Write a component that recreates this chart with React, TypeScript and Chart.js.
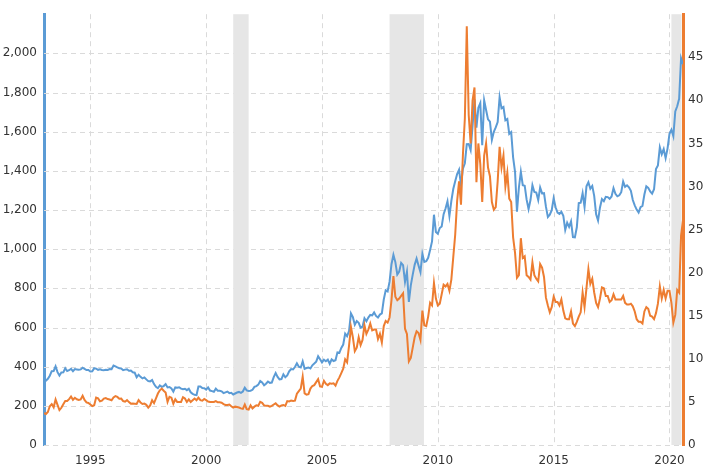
import React, { useEffect, useRef } from "react";
import { Chart, registerables } from "chart.js";

Chart.register(...registerables);

const START_YEAR = 1993;

// Monthly gold price (USD/oz), Jan 1993 .. Aug 2020
const goldPrices = [
  330, 328, 338, 354, 377, 378, 402, 372, 355, 370, 371, 392,
  378, 382, 389, 377, 388, 386, 384, 386, 395, 389, 383, 383,
  375, 376, 392, 390, 384, 387, 383, 382, 384, 383, 388, 387,
  406, 401, 396, 392, 391, 382, 385, 387, 379, 380, 371, 369,
  346, 359, 348, 340, 345, 335, 326, 325, 332, 311, 297, 290,
  304, 297, 301, 311, 294, 296, 289, 273, 294, 292, 295, 288,
  285, 287, 280, 287, 269, 261, 256, 255, 299, 299, 291, 290,
  283, 294, 278, 275, 272, 288, 277, 277, 274, 265, 269, 273,
  265, 267, 258, 263, 268, 271, 266, 273, 293, 279, 276, 277,
  282, 297, 301, 308, 327, 319, 305, 313, 324, 317, 319, 347,
  368, 348, 335, 337, 361, 346, 355, 376, 388, 386, 398, 417,
  400, 396, 427, 389, 393, 396, 391, 407, 416, 426, 453, 438,
  422, 436, 428, 436, 415, 437, 429, 433, 473, 471, 496, 513,
  569, 556, 582, 672, 653, 614, 633, 624, 599, 604, 647, 632,
  651, 664, 662, 677, 659, 651, 666, 672, 743, 790, 784, 834,
  923, 971, 934, 871, 886, 930, 918, 833, 885, 731, 815, 870,
  920, 952, 917, 883, 976, 935, 939, 956, 996, 1040, 1176, 1088,
  1079, 1108, 1116, 1179, 1208, 1244, 1169, 1246, 1307, 1347, 1384, 1406,
  1327, 1411, 1439, 1536, 1537, 1506, 1629, 1765, 1620, 1722, 1746, 1531,
  1760, 1711, 1663, 1651, 1558, 1599, 1622, 1649, 1776, 1719, 1726, 1658,
  1665, 1589, 1598, 1469, 1395, 1192, 1315, 1395, 1327, 1324, 1253, 1205,
  1251, 1327, 1292, 1289, 1251, 1315, 1285, 1286, 1217, 1164, 1176, 1199,
  1260, 1214, 1187, 1180, 1191, 1171, 1098, 1135, 1114, 1142, 1062, 1060,
  1112, 1235, 1237, 1286, 1215, 1321, 1342, 1309, 1323, 1272, 1178, 1146,
  1213, 1256, 1245, 1267, 1266, 1257, 1269, 1312, 1283, 1270, 1275, 1291,
  1345, 1318, 1326, 1316, 1298, 1251, 1224, 1202, 1187, 1215, 1221, 1279,
  1321, 1313, 1295, 1284, 1306, 1409, 1428, 1520, 1485, 1511, 1465, 1515,
  1589, 1610, 1577, 1703, 1730, 1768, 1975, 1945,
];

// Monthly silver price (USD/oz), Jan 1993 .. Aug 2020
const silverPrices = [
  3.68, 3.6, 3.83, 4.5, 4.75, 4.37, 5.29, 4.65, 4.05, 4.32, 4.74, 5.11,
  5.1, 5.33, 5.63, 5.25, 5.48, 5.31, 5.24, 5.29, 5.72, 5.23, 4.94, 4.88,
  4.7, 4.52, 4.62, 5.5, 5.41, 5.07, 5.14, 5.39, 5.45, 5.33, 5.28, 5.19,
  5.52, 5.67, 5.58, 5.37, 5.39, 5.1, 5.03, 5.21, 4.98, 4.8, 4.82, 4.8,
  4.77, 5.21, 4.94, 4.76, 4.81, 4.66, 4.34, 4.6, 5.19, 4.85, 5.4, 5.97,
  6.35, 6.55, 6.3, 6.1, 5.0, 5.6, 5.5, 4.8, 5.3, 5.0, 5.0, 5.0,
  5.55, 5.4, 5.0, 5.3, 5.0, 5.2, 5.4, 5.2, 5.5, 5.2, 5.15, 5.35,
  5.2, 5.05, 5.0, 5.0, 5.0, 5.1, 4.95, 4.95, 4.9, 4.75, 4.65, 4.65,
  4.7, 4.5, 4.35, 4.45, 4.4, 4.35, 4.25, 4.2, 4.7, 4.15, 4.1, 4.6,
  4.25, 4.45, 4.6, 4.55, 5.0, 4.9, 4.6, 4.55, 4.55, 4.45, 4.55, 4.7,
  4.85, 4.6, 4.45, 4.6, 4.65, 4.55, 5.1, 5.05, 5.15, 5.1, 5.15, 5.95,
  6.25, 6.55, 7.95, 6.0, 5.85, 5.9, 6.55, 6.85, 6.95, 7.3, 7.65, 6.8,
  6.75, 7.45, 7.1, 6.95, 7.15, 7.1, 7.15, 6.9, 7.45, 7.85, 8.35, 8.85,
  9.95, 9.6, 11.5, 13.7, 12.5, 10.9, 11.3, 12.5, 11.6, 12.2, 13.9, 12.9,
  13.4, 14.1, 13.3, 13.4, 13.4, 12.3, 12.9, 11.9, 13.8, 14.4, 14.2, 14.8,
  16.8, 19.6, 17.2, 16.8, 17.0, 17.3, 17.6, 13.5, 12.9, 9.7, 10.1, 11.3,
  12.5, 13.2, 13.0, 12.2, 15.6, 13.9, 13.8, 14.9, 16.5, 16.2, 18.8, 17.0,
  16.2, 16.4, 17.5, 18.6, 18.4, 18.7, 17.9, 19.2, 21.8, 24.4, 28.3, 30.6,
  27.9, 33.7, 37.9, 48.6, 38.3, 35.0, 40.0, 41.5, 30.5, 35.0, 32.6, 28.2,
  33.6, 35.0, 32.2, 31.2, 28.2, 27.3, 27.6, 30.6, 34.6, 32.2, 33.6, 30.0,
  31.6, 28.6, 28.2, 24.1, 22.3, 19.4, 19.7, 24.0, 21.7, 21.9, 19.7, 19.5,
  19.2, 21.2, 19.7, 19.3, 19.0, 21.0, 20.6, 19.5, 17.1, 16.2, 15.4, 16.0,
  17.2, 16.6, 16.6, 16.2, 16.9, 15.6, 14.7, 14.6, 14.6, 15.5, 14.1, 13.8,
  14.3, 14.9, 15.4, 17.7, 16.0, 18.2, 20.4, 18.7, 19.3, 17.7, 16.5, 16.0,
  17.0, 18.3, 18.2, 17.3, 17.3, 16.6, 16.8, 17.5, 16.9, 16.9, 16.9, 16.9,
  17.3, 16.5, 16.3, 16.3, 16.4, 16.1, 15.5, 14.6, 14.3, 14.3, 14.1, 15.5,
  16.0, 15.8, 15.0, 14.9, 14.6, 15.3, 16.4, 18.4, 17.0, 18.0, 17.0, 17.9,
  17.9, 16.5, 14.2, 15.1, 18.0, 17.7, 24.3, 26.1,
];

const yearTicks = [1995, 2000, 2005, 2010, 2015, 2020];
const goldTicks = [0, 200, 400, 600, 800, 1000, 1200, 1400, 1600, 1800, 2000];
const silverTicks = [0, 5, 10, 15, 20, 25, 30, 35, 40, 45];

// Recession periods (fractional years)
const recessionStarts = [2001.167, 2007.917, 2020.083];
const recessionEnds = [2001.833, 2009.4, 2020.6];

const BLUE = "#5b9bd5";
const ORANGE = "#ed7d31";
const GRID = "#dadada";

const toPoints = (arr: number[]) =>
  arr.map((v, i) => ({ x: START_YEAR + i / 12, y: v }));

const backdropPlugin = {
  id: "backdrop",
  beforeDatasetsDraw(chart: any) {
    const { ctx, chartArea, scales } = chart;
    const xs = scales.x;
    const ys = scales.y;
    ctx.save();
    ctx.strokeStyle = GRID;
    ctx.lineWidth = 1;
    ctx.setLineDash([5, 4]);
    for (const v of goldTicks) {
      const y = Math.round(ys.getPixelForValue(v)) + 0.5;
      ctx.beginPath();
      ctx.moveTo(chartArea.left, y);
      ctx.lineTo(chartArea.right, y);
      ctx.stroke();
    }
    for (const v of yearTicks) {
      const x = Math.round(xs.getPixelForValue(v)) + 0.5;
      ctx.beginPath();
      ctx.moveTo(x, chartArea.top);
      ctx.lineTo(x, chartArea.bottom);
      ctx.stroke();
    }
    ctx.setLineDash([]);
    ctx.fillStyle = "#e6e6e6";
    for (let i = 0; i < recessionStarts.length; i++) {
      let x1 = xs.getPixelForValue(recessionStarts[i]);
      let x2 = xs.getPixelForValue(recessionEnds[i]);
      x1 = Math.max(x1, chartArea.left + 2);
      x2 = Math.min(x2, chartArea.right - 1.5);
      ctx.fillRect(x1, chartArea.top, x2 - x1, chartArea.bottom - chartArea.top);
    }
    ctx.restore();
  },
};

export default function App() {
  const ref = useRef<HTMLCanvasElement | null>(null);

  useEffect(() => {
    document.body.style.margin = "0";
    const canvas = ref.current;
    if (!canvas) return;
    const xMax = START_YEAR + (goldPrices.length - 1) / 12;
    const font = { family: "'DejaVu Sans', Verdana, sans-serif", size: 12 };
    const chart = new Chart(canvas, {
      type: "line",
      data: {
        datasets: [
          {
            label: "Silver",
            data: toPoints(silverPrices),
            yAxisID: "y2",
            borderColor: ORANGE,
            borderWidth: 2,
            pointRadius: 0,
            tension: 0,
            order: 0,
          },
          {
            label: "Gold",
            data: toPoints(goldPrices),
            yAxisID: "y",
            borderColor: BLUE,
            borderWidth: 2,
            pointRadius: 0,
            tension: 0,
            order: 1,
          },
        ],
      },
      options: {
        animation: false,
        responsive: false,
        maintainAspectRatio: false,
        layout: { padding: { top: 8, left: 0, right: 0, bottom: 0 } },
        plugins: { legend: { display: false }, tooltip: { enabled: false } },
        scales: {
          x: {
            type: "linear",
            min: START_YEAR,
            max: xMax,
            afterBuildTicks: (s: any) => {
              s.ticks = yearTicks.map((v) => ({ value: v }));
            },
            afterFit: (s: any) => {
              s.height = 26;
            },
            ticks: {
              callback: (v: any) => String(v),
              color: "#333",
              font,
              padding: 9,
              maxRotation: 0,
              autoSkip: false,
            },
            grid: { display: false, drawTicks: false },
            border: { display: false },
          },
          y: {
            position: "left",
            min: 0,
            max: 2200,
            afterBuildTicks: (s: any) => {
              s.ticks = goldTicks.map((v) => ({ value: v }));
            },
            afterFit: (s: any) => {
              s.width = 44;
            },
            ticks: {
              color: "#333",
              font,
              padding: 7,
              callback: (v: any) => Number(v).toLocaleString("en-US"),
            },
            grid: { display: false, drawTicks: false },
            border: { display: true, color: BLUE, width: 3 },
          },
          y2: {
            position: "right",
            min: 0,
            max: 50,
            afterBuildTicks: (s: any) => {
              s.ticks = silverTicks.map((v) => ({ value: v }));
            },
            afterFit: (s: any) => {
              s.width = 32;
            },
            ticks: { color: "#333", font, padding: 5 },
            grid: { display: false, drawTicks: false },
            border: { display: true, color: ORANGE, width: 3 },
          },
        },
      },
      plugins: [backdropPlugin],
    } as any);
    return () => chart.destroy();
  }, []);

  return (
    <div style={{ width: 715, height: 471, background: "#fff" }}>
      <canvas ref={ref} width={715} height={471} style={{ display: "block" }} />
    </div>
  );
}
